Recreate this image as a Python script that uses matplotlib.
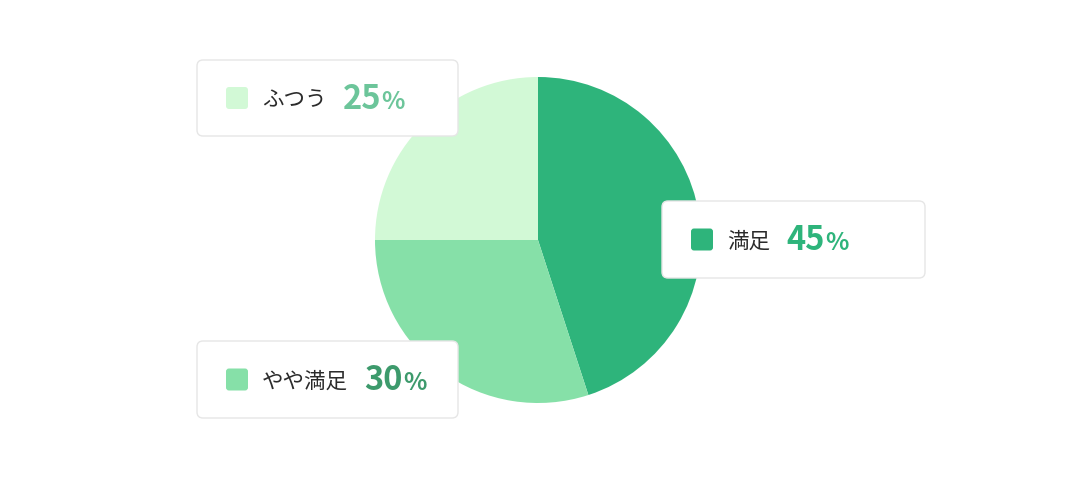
import matplotlib
matplotlib.use("Agg")
import matplotlib.pyplot as plt
from matplotlib.patches import FancyBboxPatch

labels = ["満足", "やや満足", "ふつう"]
values = [45, 30, 25]
slice_colors = ["#2eb47b", "#86e0a8", "#d2f9d6"]
pct_colors = ["#2eb47b", "#3d9a6c", "#6cc59a"]

plt.rcParams['font.family'] = ['Noto Sans CJK JP', 'DejaVu Sans']

W, H = 1080, 480
fig = plt.figure(figsize=(W / 100, H / 100), dpi=100)
ax = fig.add_axes([0, 0, 1, 1])

ax.pie(values, colors=slice_colors, startangle=90, counterclock=False,
       center=(538, 240), radius=163, wedgeprops=dict(linewidth=0),
       frame=True)
ax.set_xlim(0, W)
ax.set_ylim(0, H)
ax.set_aspect('equal')
ax.axis('off')

# callout boxes (x0, y_top in pixel coords from top, width, height)
boxes = {
    "満足": (662, 201, 263, 77),
    "やや満足": (197, 341, 261, 77),
    "ふつう": (197, 60, 261, 76),
}

fig.canvas.draw()
renderer = fig.canvas.get_renderer()

for lab, val, sc, pc in zip(labels, values, slice_colors, pct_colors):
    x0, yt, bw, bh = boxes[lab]
    y0 = H - yt - bh
    # soft shadow
    n = 26
    for i in range(n):
        pad = 1 + i * 1.0
        ax.add_patch(FancyBboxPatch((x0 - pad, y0 - pad - 6), bw + 2 * pad, bh + 2 * pad,
                                    boxstyle=f"round,pad=0,rounding_size={6 + pad}",
                                    facecolor="#000000", edgecolor="none",
                                    alpha=0.0018, zorder=3))
    ax.add_patch(FancyBboxPatch((x0, y0), bw, bh,
                                boxstyle="round,pad=0,rounding_size=6",
                                facecolor="white", edgecolor="#e6e6e6",
                                linewidth=1.0, zorder=4))
    cy = y0 + bh / 2
    sx = x0 + 29
    ax.add_patch(FancyBboxPatch((sx, cy - 11), 22, 22,
                                boxstyle="round,pad=0,rounding_size=3",
                                facecolor=sc, edgecolor="none", zorder=5))
    t1 = ax.text(sx + 36, cy, lab, fontsize=15.5, color="#2b2b2b",
                 va='center_baseline', ha='left', zorder=6)
    bb = t1.get_window_extent(renderer)
    nx = bb.x1 + 16
    base = cy - 11
    t2 = ax.text(nx, base, str(val), fontsize=23.5, fontweight='bold', color=pc,
                 va='baseline', ha='left', zorder=6)
    bb2 = t2.get_window_extent(renderer)
    ax.text(bb2.x1 + 0.5, base, "%", fontsize=17.5, color=pc, fontweight='semibold',
            va='baseline', ha='left', zorder=6)

fig.savefig("out.png", dpi=100, facecolor="white")
